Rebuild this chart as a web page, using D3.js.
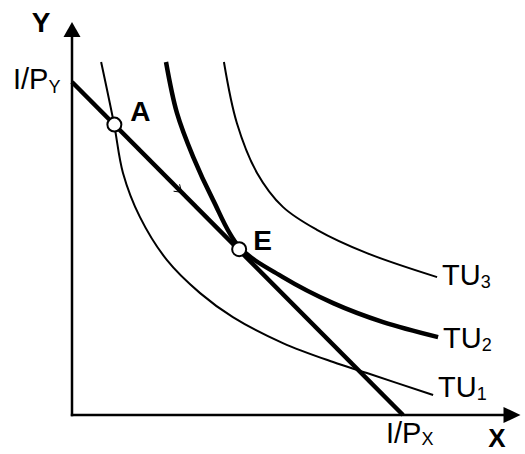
<!DOCTYPE html>
<html>
<head>
<meta charset="utf-8">
<script src="https://cdn.jsdelivr.net/npm/d3@7"></script>
<style>
  body { margin: 0; background: #fff; }
  text { font-family: "Liberation Sans", Arial, sans-serif; fill: #000; }
</style>
</head>
<body>
<div id="chart"></div>
<script>
// budget line: intercepts I/PY on Y and I/PX on X
const budget = [[0, 10], [10, 0]];

// indifference curves
const tu1 = [[0.88, 10.6], [1.27, 8.74], [1.54, 7.27], [2.05, 5.95], [2.87, 4.65], [3.87, 3.66],
  [4.86, 2.94], [6.37, 2.16], [7.89, 1.59], [8.91, 1.26], [10.91, 0.6]];
const tu2 = [[2.84, 10.6], [3.17, 9.07], [3.66, 7.75], [4.26, 6.46], [5.05, 5.05], [6.37, 4.14],
  [7.89, 3.36], [9.4, 2.79], [11.06, 2.34]];
const tu3 = [[4.59, 10.6], [4.98, 8.77], [5.59, 7.27], [6.37, 6.25], [7.4, 5.56], [8.91, 4.86],
  [11.03, 4.14]];

const curveNames = ["TU1", "TU2", "TU3"];
const points = [{ name: "A", x: 1.28, y: 8.72 }, { name: "E", x: 5.05, y: 4.98 }];
const axisMax = { x: 13.55, y: 11.8 };

document.addEventListener("DOMContentLoaded", function () {
  const width = 525, height = 454;

  const svg = d3.select("#chart").append("svg")
    .attr("width", width)
    .attr("height", height);

  const xScale = d3.scaleLinear().domain([0, 10]).range([72, 403]);
  const yScale = d3.scaleLinear().domain([0, 10]).range([415, 82]);

  const x0 = xScale(0), y0 = yScale(0);
  const xEnd = xScale(axisMax.x), yEnd = yScale(axisMax.y);

  // axes
  svg.append("line")
    .attr("x1", x0).attr("y1", y0 + 1.2)
    .attr("x2", x0).attr("y2", yEnd + 12)
    .attr("stroke", "#000").attr("stroke-width", 2.5);
  svg.append("line")
    .attr("x1", x0 - 1.2).attr("y1", y0)
    .attr("x2", xEnd - 14).attr("y2", y0)
    .attr("stroke", "#000").attr("stroke-width", 2.5);

  // arrow heads
  svg.append("path")
    .attr("d", `M${x0},${yEnd} L${x0 - 8.5},${yEnd + 15} L${x0 + 8.5},${yEnd + 15} Z`)
    .attr("fill", "#000");
  svg.append("path")
    .attr("d", `M${xEnd},${y0} L${xEnd - 17},${y0 - 8} L${xEnd - 17},${y0 + 8} Z`)
    .attr("fill", "#000");

  const line = d3.line()
    .x((d) => xScale(d[0]))
    .y((d) => yScale(d[1]))
    .curve(d3.curveCatmullRom.alpha(0.5));

  // indifference curves
  svg.append("path").datum(tu1).attr("d", line)
    .attr("fill", "none").attr("stroke", "#000").attr("stroke-width", 2);
  svg.append("path").datum(tu3).attr("d", line)
    .attr("fill", "none").attr("stroke", "#000").attr("stroke-width", 2);
  svg.append("path").datum(tu2).attr("d", line)
    .attr("fill", "none").attr("stroke", "#000").attr("stroke-width", 4.5);

  // budget line
  svg.append("path").datum(budget).attr("d", d3.line()
      .x((d) => xScale(d[0]))
      .y((d) => yScale(d[1])))
    .attr("fill", "none").attr("stroke", "#000").attr("stroke-width", 4.5);

  // small barb on the budget line
  const bx = xScale(3.28), by = yScale(6.72);
  svg.append("path")
    .attr("d", `M${bx - 1},${by - 7} L${bx + 1},${by + 1} L${bx - 7},${by}`)
    .attr("fill", "none").attr("stroke", "#000").attr("stroke-width", 1);

  // points
  svg.selectAll(".pt").data(points).enter().append("circle")
    .attr("class", "pt")
    .attr("cx", (d) => xScale(d.x))
    .attr("cy", (d) => yScale(d.y))
    .attr("r", 7)
    .attr("fill", "#fff").attr("stroke", "#000").attr("stroke-width", 2);

  svg.selectAll(".pt-label").data(points).enter().append("text")
    .attr("class", "pt-label")
    .attr("x", (d) => xScale(d.x) + (d.name === "A" ? 16 : 14))
    .attr("y", (d) => yScale(d.y) + (d.name === "A" ? -4 : 1))
    .style("font-size", "28px").style("font-weight", "bold")
    .text((d) => d.name);

  // curve labels
  const curves = [tu1, tu2, tu3];
  const labelDy = [2, 11, 8];
  curves.forEach(function (c, i) {
    const last = c[c.length - 1];
    const t = svg.append("text")
      .attr("x", xScale(last[0]) + 5)
      .attr("y", yScale(last[1]) + labelDy[i])
      .style("font-size", "29px");
    t.append("tspan").text(curveNames[i].slice(0, 2));
    t.append("tspan").attr("dy", 3).style("font-size", "18px").text(curveNames[i].slice(2));
  });

  // axis labels
  const ly = svg.append("text")
    .attr("x", 13).attr("y", yScale(10) + 7)
    .style("font-size", "29px");
  ly.append("tspan").text("I/P");
  ly.append("tspan").attr("dy", 4).style("font-size", "18px").text("Y");

  const lx = svg.append("text")
    .attr("x", xScale(10) - 17).attr("y", y0 + 28)
    .style("font-size", "29px");
  lx.append("tspan").text("I/P");
  lx.append("tspan").attr("dy", 2).style("font-size", "18px").text("X");

  svg.append("text")
    .attr("x", 41).attr("y", 32)
    .attr("text-anchor", "middle")
    .style("font-size", "28px").style("font-weight", "bold")
    .text("Y");
  svg.append("text")
    .attr("x", 497).attr("y", 447)
    .attr("text-anchor", "middle")
    .style("font-size", "26px").style("font-weight", "bold")
    .text("X");
});
</script>
</body>
</html>
